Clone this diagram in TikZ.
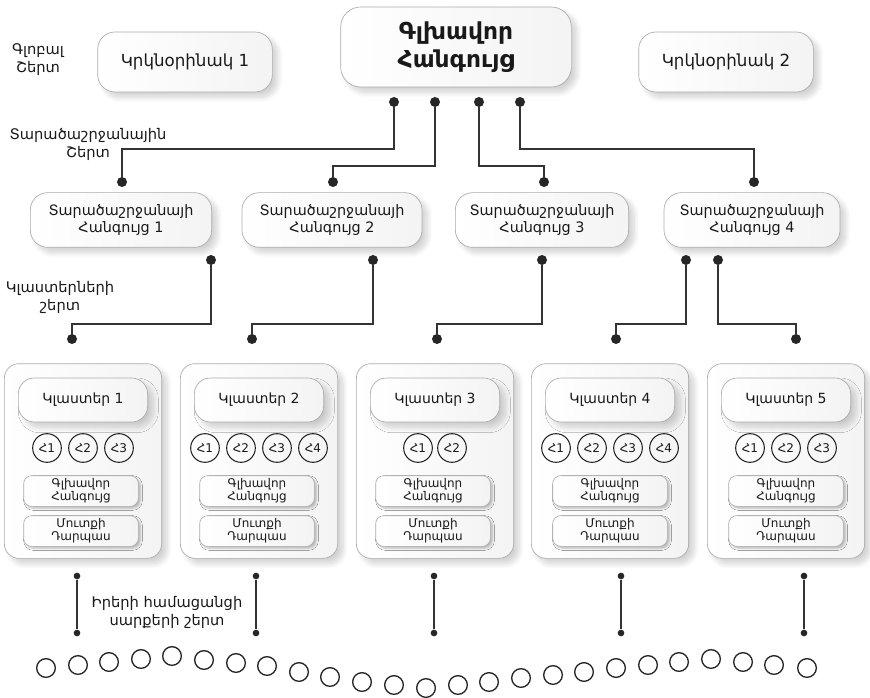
\documentclass[tikz,border=0pt]{standalone}
\usepackage{fontspec}
\setmainfont{DejaVu Sans}
\usetikzlibrary{shadows.blur}

\begin{document}
\begin{tikzpicture}[x=0.75pt,y=-0.75pt,
  box/.style={draw=gray!65, line width=0.5pt, rounded corners=13pt, left color=white, right color=gray!9,
    blur shadow={shadow xshift=4pt, shadow yshift=-4pt, shadow blur radius=4pt, shadow blur steps=10, shadow opacity=18},
    align=center, text=black!90, inner sep=2pt},
  inbox/.style={box, rounded corners=6pt, minimum width=86pt, minimum height=23pt, inner sep=1pt,
    blur shadow={shadow xshift=1.5pt, shadow yshift=-1.5pt, shadow blur radius=1.5pt, shadow blur steps=6, shadow opacity=14},
    font=\fontsize{9}{9.8}\selectfont},
  dot/.style={circle, fill=black!85, inner sep=0pt, minimum size=7.5pt},
  sdot/.style={circle, fill=black!85, inner sep=0pt, minimum size=5pt},
  hnode/.style={draw=black!85, circle, line width=0.8pt, inner sep=0pt, minimum size=21.5pt, text=black!90, font=\fontsize{9}{10}\selectfont},
  iot/.style={draw=black!85, circle, line width=1pt, inner sep=0pt, minimum size=14pt},
  layer/.style={align=center, text=black!90, font=\fontsize{11}{13.5}\selectfont},
  wire/.style={line width=1.2pt, black!80},
  thinwire/.style={line width=0.9pt, black!80}]
\useasboundingbox (0,0) rectangle (870,698);

\node (lg) at (38,60) [layer] {Գլոբալ\\Շերտ};
\node (lr) at (88,144) [layer] {Տարածաշրջանային\\Շերտ};
\node (lc) at (60,297) [layer] {Կլաստերների\\շերտ};
\node (li) at (167,612) [layer] {Իրերի համացանցի\\սարքերի շերտ};

\node (k1) at (185,62) [box, minimum width=131pt, minimum height=45pt, font=\fontsize{12.5}{15}\selectfont] {Կրկնօրինակ 1};
\node (g) at (456,47) [box, rounded corners=15pt, minimum width=173pt, minimum height=60pt, font=\bfseries\fontsize{17.5}{21}\selectfont] {Գլխավոր\\Հանգույց};
\node (k2) at (726,62) [box, minimum width=131pt, minimum height=45pt, font=\fontsize{12.5}{15}\selectfont] {Կրկնօրինակ 2};

\node (g1) at (394,102) [dot] {};
\node (g2) at (435,102) [dot] {};
\node (g3) at (479,102) [dot] {};
\node (g4) at (520,102) [dot] {};

\node (r1t) at (122,182) [dot] {};
\node (r2t) at (333,182) [dot] {};
\node (r3t) at (544,182) [dot] {};
\node (r4t) at (754,182) [dot] {};

\node (r1) at (121,220) [box, minimum width=136pt, minimum height=41pt, font=\fontsize{10.8}{13.2}\selectfont] {Տարածաշրջանայի\\Հանգույց 1};
\node (r2) at (332,220) [box, minimum width=135pt, minimum height=41pt, font=\fontsize{10.8}{13.2}\selectfont] {Տարածաշրջանայի\\Հանգույց 2};
\node (r3) at (542,220) [box, minimum width=130pt, minimum height=41pt, font=\fontsize{10.8}{13.2}\selectfont] {Տարածաշրջանայի\\Հանգույց 3};
\node (r4) at (752,220) [box, minimum width=132pt, minimum height=41pt, font=\fontsize{10.8}{13.2}\selectfont] {Տարածաշրջանայի\\Հանգույց 4};

\node (r1b) at (211,260) [dot] {};
\node (r2b) at (373,260) [dot] {};
\node (r3b) at (542,260) [dot] {};
\node (r4b) at (686,260) [dot] {};
\node (r4c) at (718,260) [dot] {};

\node (c1t) at (72,339) [dot] {};
\node (c2t) at (252,339) [dot] {};
\node (c3t) at (437,339) [dot] {};
\node (c4t) at (616,339) [dot] {};
\node (c5t) at (796,339) [dot] {};

\draw[wire]
(g1) -- ++(0,47) -| (r1t)
(g2) -- ++(0,64) -| (r2t)
(g3) -- ++(0,64) -| (r3t)
(g4) -- ++(0,47) -| (r4t)
(r1b) -- ++(0,64) -| (c1t)
(r2b) -- ++(0,64) -| (c2t)
(r3b) -- ++(0,64) -| (c3t)
(r4b) -- ++(0,64) -| (c4t)
(r4c) -- ++(0,64) -| (c5t);

% clusters
\node (c1) at (83,461) [box, rounded corners=11pt, minimum width=118pt, minimum height=146pt] {};
\node (c2) at (259,461) [box, rounded corners=11pt, minimum width=118pt, minimum height=146pt] {};
\node (c3) at (435,461) [box, rounded corners=11pt, minimum width=118pt, minimum height=146pt] {};
\node (c4) at (610,461) [box, rounded corners=11pt, minimum width=118pt, minimum height=146pt] {};
\node (c5) at (786,461) [box, rounded corners=11pt, minimum width=118pt, minimum height=146pt] {};

\node (c1n) at (83,400) [box, rounded corners=12pt, minimum width=97pt, minimum height=33pt, font=\fontsize{10.5}{12}\selectfont] {Կլաստեր 1};
\node (c2n) at (259,400) [box, rounded corners=12pt, minimum width=97pt, minimum height=33pt, font=\fontsize{10.5}{12}\selectfont] {Կլաստեր 2};
\node (c3n) at (435,400) [box, rounded corners=12pt, minimum width=97pt, minimum height=33pt, font=\fontsize{10.5}{12}\selectfont] {Կլաստեր 3};
\node (c4n) at (610,400) [box, rounded corners=12pt, minimum width=97pt, minimum height=33pt, font=\fontsize{10.5}{12}\selectfont] {Կլաստեր 4};
\node (c5n) at (786,400) [box, rounded corners=12pt, minimum width=97pt, minimum height=33pt, font=\fontsize{10.5}{12}\selectfont] {Կլաստեր 5};

\node (c1h1) at (47,448) [hnode] {Հ1};
\node (c1h2) at (83,448) [hnode] {Հ2};
\node (c1h3) at (119,448) [hnode] {Հ3};
\node (c2h1) at (205,448) [hnode] {Հ1};
\node (c2h2) at (241,448) [hnode] {Հ2};
\node (c2h3) at (277,448) [hnode] {Հ3};
\node (c2h4) at (313,448) [hnode] {Հ4};
\node (c3h1) at (418,448) [hnode] {Հ1};
\node (c3h2) at (452,448) [hnode] {Հ2};
\node (c4h1) at (556,448) [hnode] {Հ1};
\node (c4h2) at (592,448) [hnode] {Հ2};
\node (c4h3) at (628,448) [hnode] {Հ3};
\node (c4h4) at (664,448) [hnode] {Հ4};
\node (c5h1) at (750,448) [hnode] {Հ1};
\node (c5h2) at (786,448) [hnode] {Հ2};
\node (c5h3) at (822,448) [hnode] {Հ3};

\node (c1m) at (81,491) [inbox] {Գլխավոր\\Հանգույց};
\node (c2m) at (257,491) [inbox] {Գլխավոր\\Հանգույց};
\node (c3m) at (433,491) [inbox] {Գլխավոր\\Հանգույց};
\node (c4m) at (610,491) [inbox] {Գլխավոր\\Հանգույց};
\node (c5m) at (786,491) [inbox] {Գլխավոր\\Հանգույց};

\node (c1g) at (81,531) [inbox] {Մուտքի\\Դարպաս};
\node (c2g) at (257,531) [inbox] {Մուտքի\\Դարպաս};
\node (c3g) at (433,531) [inbox] {Մուտքի\\Դարպաս};
\node (c4g) at (610,531) [inbox] {Մուտքի\\Դարպաս};
\node (c5g) at (786,531) [inbox] {Մուտքի\\Դարպաս};

\node (b1) at (77,576) [sdot] {};
\node (b2) at (256,576) [sdot] {};
\node (b3) at (434,576) [sdot] {};
\node (b4) at (621,576) [sdot] {};
\node (b5) at (804,576) [sdot] {};
\node (d1) at (77,633) [sdot] {};
\node (d2) at (256,633) [sdot] {};
\node (d3) at (434,633) [sdot] {};
\node (d4) at (621,633) [sdot] {};
\node (d5) at (804,633) [sdot] {};

\draw[thinwire]
(b1) to (d1)
(b2) to (d2)
(b3) to (d3)
(b4) to (d4)
(b5) to (d5);

% devices
\node (i1) at (46,668) [iot] {};
\node (i2) at (78,665) [iot] {};
\node (i3) at (109,662) [iot] {};
\node (i4) at (141,659) [iot] {};
\node (i5) at (172,656) [iot] {};
\node (i6) at (204,660) [iot] {};
\node (i7) at (236,663) [iot] {};
\node (i8) at (267,666) [iot] {};
\node (i9) at (299,672) [iot] {};
\node (i10) at (330,677) [iot] {};
\node (i11) at (362,682) [iot] {};
\node (i12) at (394,685) [iot] {};
\node (i13) at (426,688) [iot] {};
\node (i14) at (458,685) [iot] {};
\node (i15) at (489,682) [iot] {};
\node (i16) at (521,678) [iot] {};
\node (i17) at (553,675) [iot] {};
\node (i18) at (584,672) [iot] {};
\node (i19) at (616,668) [iot] {};
\node (i20) at (648,665) [iot] {};
\node (i21) at (679,662) [iot] {};
\node (i22) at (711,659) [iot] {};
\node (i23) at (743,662) [iot] {};
\node (i24) at (774,665) [iot] {};
\node (i25) at (807,668) [iot] {};
\end{tikzpicture}
\end{document}
